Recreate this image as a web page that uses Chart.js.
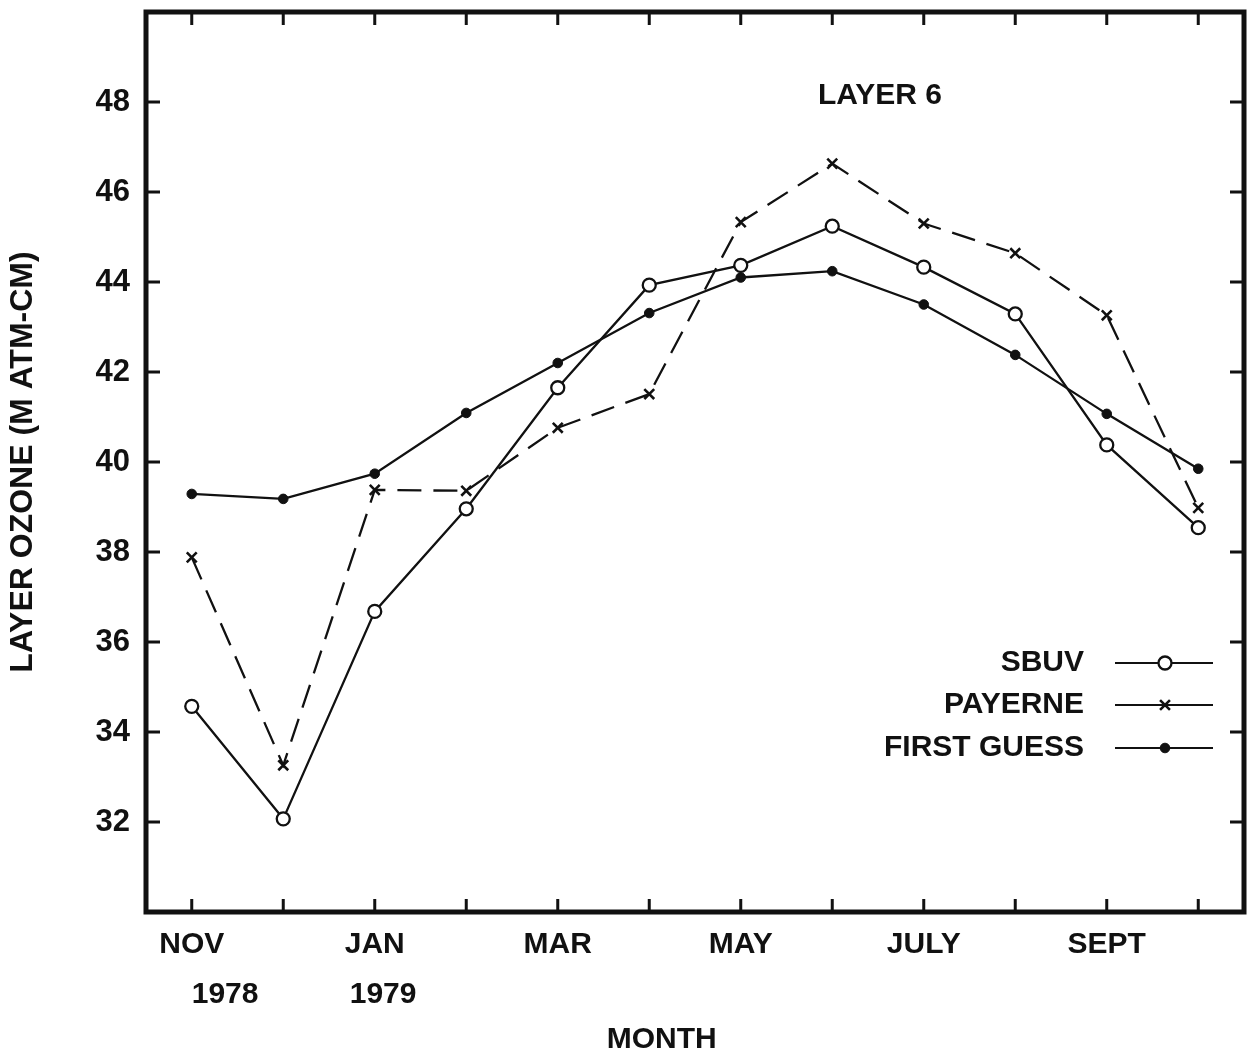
<!DOCTYPE html>
<html>

<head>
    <title>Layer 6</title>
    <script src="https://cdn.jsdelivr.net/npm/chart.js@4.4.0/dist/chart.umd.min.js"></script>
    <style>
        body { margin: 0; background: #fff; }
    </style>
</head>

<body>
    <canvas id="myChart" width="1254" height="1055"></canvas>
</body>
<script>
    // months Nov 1978 .. Oct 1979
    const months = ['NOV', 'DEC', 'JAN', 'FEB', 'MAR', 'APR', 'MAY', 'JUN', 'JULY', 'AUG', 'SEPT', 'OCT'];
    // only every other month is labelled; the year sits under NOV and JAN
    const monthLabels = [['NOV', '        1978'], '', ['JAN', '  1979'], '', 'MAR', '', 'MAY', '', 'JULY', '', 'SEPT', ''];
    const yTickValues = [32, 34, 36, 38, 40, 42, 44, 46, 48];

    const sbuv = [34.57, 32.07, 36.68, 38.96, 41.65, 43.93, 44.37, 45.24, 44.33, 43.29, 40.38, 38.54];
    const payerne = [37.88, 33.26, 39.38, 39.36, 40.76, 41.51, 45.33, 46.63, 45.3, 44.64, 43.26, 38.98];
    const firstGuess = [39.29, 39.18, 39.74, 41.09, 42.2, 43.31, 44.1, 44.24, 43.5, 42.38, 41.07, 39.85];

    const ink = '#111';
    const fontFamily = '"Liberation Sans", Arial, Helvetica, sans-serif';

    // frame with inward tick marks on all four sides
    const framePlugin = {
        id: 'frame',
        afterDatasetsDraw(chart) {
            const ctx = chart.ctx;
            const a = chart.chartArea;
            const xs = chart.scales.x;
            const ys = chart.scales.y;
            ctx.save();
            ctx.strokeStyle = ink;
            ctx.lineWidth = 3;
            ctx.lineCap = 'butt';
            months.forEach((m, i) => {
                const px = xs.getPixelForValue(i);
                ctx.beginPath();
                ctx.moveTo(px, a.bottom);
                ctx.lineTo(px, a.bottom - 13);
                ctx.moveTo(px, a.top);
                ctx.lineTo(px, a.top + 13);
                ctx.stroke();
            });
            yTickValues.forEach(v => {
                const py = ys.getPixelForValue(v);
                ctx.beginPath();
                ctx.moveTo(a.left, py);
                ctx.lineTo(a.left + 14, py);
                ctx.moveTo(a.right, py);
                ctx.lineTo(a.right - 14, py);
                ctx.stroke();
            });
            ctx.lineWidth = 5;
            ctx.lineJoin = 'miter';
            ctx.strokeRect(a.left, a.top, a.right - a.left, a.bottom - a.top);

            // panel label
            ctx.fillStyle = ink;
            ctx.font = 'bold 30px ' + fontFamily;
            ctx.textAlign = 'center';
            ctx.textBaseline = 'middle';
            ctx.fillText('LAYER 6', 880, 96);

            // legend: name on the left, line sample with marker on the right
            const rows = [663, 705, 748];
            chart.data.datasets.forEach((ds, i) => {
                const y = rows[i];
                ctx.textAlign = 'right';
                ctx.fillText(ds.label, 1084, y);
                ctx.lineWidth = 2.2;
                ctx.setLineDash([]);
                ctx.beginPath();
                ctx.moveTo(1115, y);
                ctx.lineTo(1213, y);
                ctx.stroke();
                ctx.fillStyle = ds.pointBackgroundColor;
                ctx.strokeStyle = ink;
                ctx.lineWidth = ds.pointBorderWidth;
                Chart.helpers.drawPoint(ctx, {
                    pointStyle: ds.pointStyle,
                    radius: ds.pointRadius,
                    rotation: 0,
                    borderWidth: ds.pointBorderWidth
                }, 1165, y);
                ctx.fillStyle = ink;
            });
            ctx.restore();
        }
    };

    const canvas = document.getElementById('myChart');

    const data = {
        labels: months,
        datasets: [{
            label: 'SBUV',
            data: sbuv,
            borderColor: ink,
            borderWidth: 2.3,
            pointStyle: 'circle',
            pointRadius: 6.5,
            pointBackgroundColor: '#fff',
            pointBorderColor: ink,
            pointBorderWidth: 2.3,
            tension: 0
        }, {
            label: 'PAYERNE',
            data: payerne,
            borderColor: ink,
            borderWidth: 2.3,
            borderDash: [24, 12],
            pointStyle: 'crossRot',
            pointRadius: 7,
            pointBackgroundColor: ink,
            pointBorderColor: ink,
            pointBorderWidth: 2.6,
            tension: 0
        }, {
            label: 'FIRST GUESS',
            data: firstGuess,
            borderColor: ink,
            borderWidth: 2.3,
            pointStyle: 'circle',
            pointRadius: 4.8,
            pointBackgroundColor: ink,
            pointBorderColor: ink,
            pointBorderWidth: 1,
            tension: 0
        }]
    };

    const config = {
        type: 'line',
        data: data,
        plugins: [framePlugin],
        options: {
            responsive: false,
            devicePixelRatio: 1,
            animation: false,
            layout: { padding: { top: 12, right: 10, bottom: 0, left: 0 } },
            plugins: {
                legend: { display: false },
                tooltip: { enabled: false }
            },
            scales: {
                x: {
                    type: 'category',
                    offset: true,
                    grid: { display: false, drawTicks: false },
                    border: { display: false },
                    afterFit: (scale) => {
                        scale.height = 143;
                        scale.paddingLeft = 0;
                        scale.paddingRight = 0;
                    },
                    ticks: {
                        autoSkip: false,
                        maxRotation: 0,
                        padding: 8,
                        color: ink,
                        font: { family: fontFamily, size: 30, weight: 'bold', lineHeight: 1.667 },
                        callback: (value, index) => monthLabels[index]
                    },
                    title: {
                        display: true,
                        text: 'MONTH        ',
                        color: ink,
                        padding: { top: 0, bottom: 0 },
                        font: { family: fontFamily, size: 30, weight: 'bold', lineHeight: 1.0 }
                    }
                },
                y: {
                    min: 30,
                    max: 50,
                    grid: { display: false, drawTicks: false },
                    border: { display: false },
                    afterFit: (scale) => {
                        scale.width = 146;
                        scale.paddingTop = 0;
                        scale.paddingBottom = 0;
                    },
                    ticks: {
                        stepSize: 2,
                        padding: 16,
                        color: ink,
                        font: { family: fontFamily, size: 31, weight: 'bold' },
                        callback: (value) => yTickValues.includes(value) ? String(value) : ''
                    },
                    title: {
                        display: true,
                        text: 'LAYER OZONE (M ATM-CM)',
                        color: ink,
                        padding: { top: 4, bottom: 0 },
                        font: { family: fontFamily, size: 32, weight: 'bold' }
                    }
                }
            }
        }
    };

    const myChart = new Chart(canvas, config);
</script>

</html>
